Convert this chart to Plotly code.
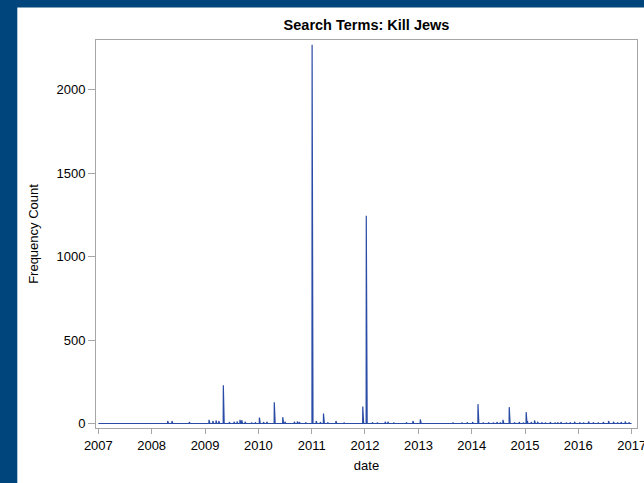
import pandas as pd
import plotly.graph_objects as go

# ---- data (daily frequency counts; days not listed are 0) ----
start_date = "2007-01-01"
end_date = "2016-12-31"

spike_dates = [
    "2008-04-20", "2008-05-19", "2008-09-15", "2008-11-10",
    "2009-01-28", "2009-02-23", "2009-03-17", "2009-04-05", "2009-05-06",
    "2009-06-16", "2009-07-18", "2009-08-08", "2009-08-28", "2009-09-09",
    "2009-10-02", "2009-11-15", "2009-12-10",
    "2010-01-08", "2010-02-05", "2010-02-28", "2010-04-20", "2010-06-17",
    "2010-07-02", "2010-09-04", "2010-09-25", "2010-10-09", "2010-11-20",
    "2011-01-04", "2011-02-01", "2011-03-01", "2011-03-23", "2011-04-20",
    "2011-06-16", "2011-08-10", "2011-10-05", "2011-12-17",
    "2012-01-10", "2012-02-20", "2012-03-25", "2012-05-18", "2012-06-06",
    "2012-07-15", "2012-09-01", "2012-10-10", "2012-11-24",
    "2013-01-14", "2013-03-10", "2013-08-25", "2013-09-20", "2013-10-25",
    "2013-11-30", "2014-01-07", "2014-02-13", "2014-03-20", "2014-04-26",
    "2014-05-28", "2014-06-23", "2014-07-15", "2014-08-03", "2014-09-15",
    "2014-10-20", "2014-11-22", "2014-12-20",
    "2015-01-09", "2015-01-18", "2015-02-12", "2015-03-07", "2015-03-28",
    "2015-04-25", "2015-05-20", "2015-06-23", "2015-07-25", "2015-08-12",
    "2015-09-04", "2015-10-10", "2015-11-05", "2015-12-06",
    "2016-01-10", "2016-02-05", "2016-03-11", "2016-04-12", "2016-05-15",
    "2016-06-20", "2016-07-26", "2016-08-29", "2016-09-25", "2016-10-20",
    "2016-11-17", "2016-12-12",
]
spike_counts = [
    15, 15, 8, 4,
    22, 15, 18, 15, 229,
    8, 10, 12, 22, 20,
    10, 5, 6,
    36, 8, 10, 127, 38,
    10, 10, 12, 8, 6,
    2270, 15, 8, 60, 6,
    15, 5, 4, 102,
    1245, 6, 5, 10, 10,
    5, 4, 6, 15,
    24, 4, 5, 4, 5,
    6, 8, 116, 5, 6,
    5, 8, 6, 22, 98,
    6, 8, 5,
    68, 15, 8, 18, 10,
    6, 5, 8, 5, 6,
    8, 5, 6, 10,
    6, 5, 12, 6, 5,
    8, 15, 10, 6, 8,
    12, 6,
]

x_ticks = ["2007-01-01", "2008-01-01", "2009-01-01", "2010-01-01", "2011-01-01",
           "2012-01-01", "2013-01-01", "2014-01-01", "2015-01-01", "2016-01-01",
           "2017-01-01"]
x_tick_labels = ["2007", "2008", "2009", "2010", "2011", "2012", "2013", "2014",
                 "2015", "2016", "2017"]
y_ticks = [0, 500, 1000, 1500, 2000]

# build the daily series
days = pd.date_range(start_date, end_date, freq="D")
series = pd.Series(0, index=days, dtype=float)
for d, c in zip(spike_dates, spike_counts):
    series[pd.Timestamp(d)] = c

FONT = "Liberation Sans, Arial, sans-serif"
FRAME = "#a6a6a6"
BORDER = "#00467c"

fig = go.Figure()
fig.add_trace(go.Scatter(
    x=series.index, y=series.values, mode="lines",
    line=dict(color="#2a4ca6", width=1.2),
    hoverinfo="skip", showlegend=False,
))

fig.update_layout(
    width=644, height=483,
    margin=dict(l=96, r=7, t=40, b=55, autoexpand=False),
    paper_bgcolor="white", plot_bgcolor="white",
    font=dict(family=FONT, size=13, color="#000000"),
    title=dict(text="<b>Search Terms: Kill Jews</b>", x=0.5, xref="paper",
               y=1 - 25 / 483, yanchor="middle",
               font=dict(family=FONT, size=14.5, color="#000000")),
    xaxis=dict(
        range=["2006-12-16", "2017-02-06"],
        tickmode="array", tickvals=x_ticks, ticktext=x_tick_labels,
        showgrid=False, zeroline=False, automargin=False,
        showline=True, mirror=True, linecolor=FRAME, linewidth=1,
        ticks="outside", ticklen=5, tickcolor=FRAME,
        tickfont=dict(family=FONT, size=13),
        ticklabeloverflow="allow",
        title=dict(text="date", font=dict(family=FONT, size=13), standoff=9),
    ),
    yaxis=dict(
        range=[-27, 2299],
        tickmode="array", tickvals=y_ticks,
        showgrid=False, zeroline=False, automargin=False,
        showline=True, mirror=True, linecolor=FRAME, linewidth=1,
        ticks="outside", ticklen=7, tickcolor=FRAME,
        tickfont=dict(family=FONT, size=13),
        title=dict(text="Frequency Count", font=dict(family=FONT, size=13), standoff=14),
    ),
    shapes=[
        dict(type="rect", xref="paper", yref="paper",
             x0=-0.3, x1=(17.3 - 96) / 541, y0=-0.3, y1=1.2,
             fillcolor=BORDER, line=dict(width=0), layer="above"),
        dict(type="rect", xref="paper", yref="paper",
             x0=-0.3, x1=1.1, y0=(428 - 7.4) / 388, y1=1.2,
             fillcolor=BORDER, line=dict(width=0), layer="above"),
    ],
)

fig.write_html("out.html",
               config={"displayModeBar": False},
               post_script="document.body.style.margin='0px';")
